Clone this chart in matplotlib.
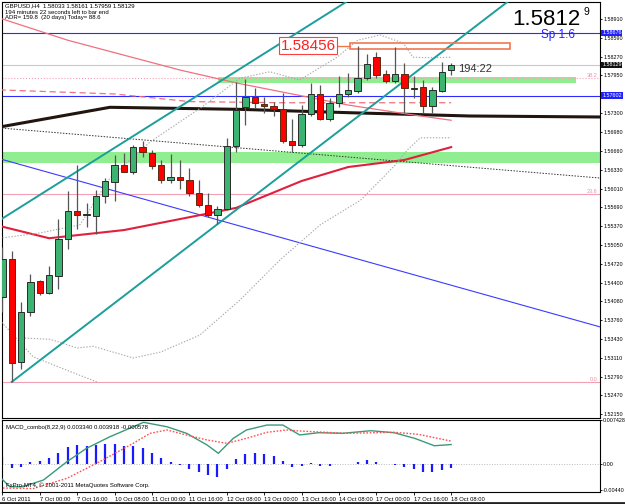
import matplotlib
matplotlib.use('Agg')
import matplotlib.pyplot as plt
import matplotlib.transforms as mtransforms
from matplotlib.patches import Rectangle

plt.rcParams['font.family'] = ['Liberation Sans', 'DejaVu Sans']

# GBPUSD H4 bars, 6 Oct 08:00 .. 18 Oct 08:00 (bar index = position)
opens = [1.5416, 1.5480, 1.5304, 1.5389, 1.5443, 1.5422, 1.5452, 1.5514, 1.5563, 1.5556,
         1.5554, 1.5588, 1.5613, 1.5641, 1.5630, 1.5672, 1.5662, 1.5641, 1.5616, 1.5620,
         1.5616, 1.5593, 1.5573, 1.5555, 1.5566, 1.5674, 1.5740, 1.5757, 1.5745, 1.5742,
         1.5737, 1.5683, 1.5676, 1.5729, 1.5763, 1.5720, 1.5748, 1.5763, 1.5768, 1.5791,
         1.5827, 1.5797, 1.5786, 1.5797, 1.5772, 1.5775, 1.5742, 1.5768, 1.58033]
highs = [1.5501, 1.5494, 1.5406, 1.5455, 1.5444, 1.5469, 1.5549, 1.5597, 1.5641, 1.5576,
         1.5599, 1.5619, 1.5659, 1.5662, 1.5676, 1.5683, 1.5667, 1.5650, 1.5661, 1.5650,
         1.5636, 1.5615, 1.5593, 1.5571, 1.5688, 1.5784, 1.5788, 1.5774, 1.5757, 1.5750,
         1.5764, 1.5721, 1.5744, 1.5782, 1.5778, 1.5756, 1.5793, 1.5799, 1.58456, 1.5831,
         1.5835, 1.5804, 1.5843, 1.5816, 1.5793, 1.5787, 1.5775, 1.5818, 1.58161]
lows = [1.5390, 1.5270, 1.5292, 1.5383, 1.5419, 1.5421, 1.5429, 1.5498, 1.5531, 1.5536,
        1.5524, 1.5576, 1.5579, 1.5629, 1.5626, 1.5655, 1.5634, 1.5611, 1.5610, 1.5600,
        1.5588, 1.5570, 1.5553, 1.5540, 1.5564, 1.5664, 1.5710, 1.5739, 1.5730, 1.5725,
        1.5679, 1.5664, 1.5673, 1.5725, 1.5718, 1.5717, 1.5741, 1.5758, 1.5764, 1.5787,
        1.5791, 1.5781, 1.5781, 1.5730, 1.5756, 1.5730, 1.5730, 1.5767, 1.57959]
closes = [1.5480, 1.5303, 1.5389, 1.5441, 1.5422, 1.5453, 1.5515, 1.5562, 1.5555, 1.5557,
          1.5589, 1.5614, 1.5641, 1.5630, 1.5672, 1.5664, 1.5640, 1.5616, 1.5620, 1.5616,
          1.5594, 1.5573, 1.5555, 1.5566, 1.5674, 1.5736, 1.5757, 1.5747, 1.5742, 1.5738,
          1.5683, 1.5676, 1.5729, 1.5763, 1.5720, 1.5747, 1.5763, 1.5769, 1.5791, 1.5814,
          1.5796, 1.5786, 1.5798, 1.5773, 1.5774, 1.5742, 1.5769, 1.5801, 1.58129]

# indicator lines, read as (bar, price) knots
red_ma_x = [-0.3, 5, 13, 20, 25, 32, 37, 43, 48]
red_ma_y = [1.5537, 1.5516, 1.5530, 1.5552, 1.5568, 1.5614, 1.5638, 1.5650, 1.5672]
pink_ma_x = [-0.3, 7, 19, 25, 37, 44, 48]
pink_ma_y = [1.5893, 1.5855, 1.5804, 1.5782, 1.5744, 1.5727, 1.5718]
pink_dash_x = [-0.3, 12, 20, 30, 40, 48]
pink_dash_y = [1.5770, 1.5763, 1.5750, 1.5748, 1.5748, 1.5748]
bb_up_x = [-0.3, 4, 8.3, 11.5, 15.8, 21.2, 25.4, 28.6, 31.8, 35.8, 38, 40.4, 42.9, 43.9, 45.7, 48]
bb_up_y = [1.5516, 1.5525, 1.5539, 1.5619, 1.5681, 1.5739, 1.5790, 1.5801, 1.5787, 1.5826,
           1.5855, 1.5864, 1.5850, 1.5826, 1.5825, 1.5826]
bb_lo1_x = [-0.3, 3.3, 6.9, 10.1]
bb_lo1_y = [1.5376, 1.5313, 1.5290, 1.5270]
bb_lo2_x = [2.4, 5.1, 8, 9.7, 14, 16.9, 21.1, 25.4, 29.7, 34, 38.3, 42, 43.3, 44.7, 48]
bb_lo2_y = [1.5345, 1.5343, 1.5328, 1.5331, 1.5311, 1.5321, 1.5350, 1.5410, 1.5479, 1.5539,
            1.5581, 1.5641, 1.5667, 1.5688, 1.5688]
black_x = [-0.3, 11.5, 25.4, 37.2, 50, 64]
black_y = [1.57064, 1.57402, 1.57367, 1.57309, 1.57253, 1.57236]

# trend lines: two anchors each (bar, price)
teal_low = [(1, 1.5270), (23, 1.5540)]
teal_up = [(0, 1.55498), (40, 1.59532)]
blue_line = [(0, 1.56508), (63.9, 1.53643)]
dotted_line = [(0, 1.57045), (63.9, 1.56191)]

# horizontal levels
blue_levels = [1.58676, 1.57602]
bid = 1.58129
fib_low, fib_high = 1.52703, 1.66316
fib_levels = [0.0, 23.6, 38.2]
zone_a = (23.1, 61.4, 1.57818, 1.57920)
zone_b = (1.56443, 1.56641)
box = (37.2, 54.3, 1.58395, 1.58497)
box_price = 1.58456

price_ticks = [1.58910, 1.58590, 1.58270, 1.57950, 1.57300, 1.56980, 1.56660, 1.56330,
               1.56010, 1.55690, 1.55370, 1.55050, 1.54720, 1.54400, 1.54080, 1.53760,
               1.53430, 1.53110, 1.52790, 1.52470, 1.52150]

# MACD(8,22,9)
hist = [0.0013, -0.00056, -0.00045, 0.00045, 0.00056, 0.00113, 0.00197, 0.00299, 0.00327, 0.0031,
        0.00327, 0.00338, 0.00338, 0.0031, 0.0031, 0.0027, 0.00197, 0.00113, 0.00045, -0.0001,
        -0.00084, -0.00135, -0.0018, -0.00208, -0.00084, 0.00084, 0.00169, 0.00186, 0.00169, 0.0014,
        0.0005, -0.0005, -0.00028, 0.00017, -0.00028, -0.00028, 0.0001, 0.0001, 0.00039, 0.00068,
        0.00039, 0.0, -0.00017, -0.00045, -0.00084, -0.0013, -0.00124, -0.00096, -0.000578]
macd_x = [-0.3, 0.8, 2.2, 4.4, 6.9, 9.0, 11.5, 14.0, 15.1, 17.6, 19.7, 21.9, 23.1, 24.7, 26.1,
          28.3, 30.0, 31.8, 33.8, 36.4, 39.4, 41.9, 44.1, 46.2, 48]
macd_y = [-0.0021, -0.00379, -0.00379, -0.00265, 0.00044, 0.0027, 0.00466, 0.00635, 0.0071,
          0.00635, 0.00524, 0.00326, 0.00186, 0.00439, 0.0058, 0.00664, 0.00664, 0.00496,
          0.00534, 0.00524, 0.00568, 0.00534, 0.00439, 0.00314, 0.00334]
sig_x = [-0.3, 3.3, 6.9, 10.4, 14.0, 15.8, 17.6, 19.7, 21.9, 24.0, 26.1, 28.3, 30.4, 31.8,
         36.8, 41.9, 44.5, 48]
sig_y = [-0.0040, -0.0041, -0.00237, 0.00044, 0.00355, 0.00524, 0.0058, 0.00495, 0.00411,
         0.00355, 0.00439, 0.00541, 0.0058, 0.00563, 0.00524, 0.00541, 0.00507, 0.00392]

date_ticks = [0, 4, 8, 12, 16, 20, 24, 28, 32, 36, 40, 44, 48]
date_labels = ['6 Oct 2011', '7 Oct 00:00', '7 Oct 16:00', '10 Oct 08:00', '11 Oct 00:00',
               '11 Oct 16:00', '12 Oct 08:00', '13 Oct 00:00', '13 Oct 16:00', '14 Oct 08:00',
               '17 Oct 00:00', '17 Oct 16:00', '18 Oct 08:00']

W, H = 625, 504
fig = plt.figure(figsize=(W / 100, H / 100), dpi=100)
fig.patch.set_facecolor('white')
ax = fig.add_axes([2 / W, 1 - 418 / H, 598 / W, 416 / H])
ax2 = fig.add_axes([2 / W, 1 - 492 / H, 598 / W, 72 / H])

xmin, xmax = -0.04, 63.92
ax.set_xlim(xmin, xmax)
ax.set_ylim(1.52082, 1.59205)


def ray(anchors, x0=xmin - 1, x1=xmax + 1):
    (xa, ya), (xb, yb) = anchors
    k = (yb - ya) / (xb - xa)
    return [x0, x1], [ya + k * (x0 - xa), ya + k * (x1 - xa)]


# zones and levels
ax.add_patch(Rectangle((zone_a[0], zone_a[2]), zone_a[1] - zone_a[0], zone_a[3] - zone_a[2],
                       facecolor='#90ee90', edgecolor='none', zorder=1))
ax.axhspan(zone_b[0], zone_b[1], color='#90ee90', zorder=1, lw=0)
for lv in fib_levels:
    p = fib_low + (fib_high - fib_low) * lv / 100
    ax.axhline(p, color='#f2a0b4', lw=0.8, ls=':' if lv == 38.2 else '-', zorder=2)
    ax.text(xmax - 0.3, p, '%.1f' % lv, color='#f08fa8', fontsize=4, ha='right', va='bottom', zorder=6)
for lv in blue_levels:
    ax.axhline(lv, color='#2b2bff', lw=0.8, zorder=2)
ax.axhline(bid, color='#c8c8c8', lw=0.8, zorder=2)

# lines
ax.plot(*ray(teal_low, x0=teal_low[0][0]), color='#1d9e9a', lw=1.4, zorder=4)
ax.plot(*ray(teal_up), color='#1d9e9a', lw=1.4, zorder=4)
ax.plot(*ray(blue_line), color='#3b3bff', lw=0.8, zorder=3)
ax.plot(*ray(dotted_line), color='#333333', lw=0.7, ls=(0, (1.5, 1.5)), zorder=3)
ax.plot(black_x, black_y, color='#20160f', lw=2.2, zorder=3)
ax.plot(pink_ma_x, pink_ma_y, color='#f07080', lw=0.9, zorder=3)
ax.plot(pink_dash_x, pink_dash_y, color='#f07080', lw=0.9, ls=(0, (5, 3)), zorder=3)
ax.plot(red_ma_x, red_ma_y, color='#e0203c', lw=1.5, zorder=3)
for bx, by in [(bb_up_x, bb_up_y), (bb_lo1_x, bb_lo1_y), (bb_lo2_x, bb_lo2_y)]:
    ax.plot(bx, by, color='#a8a8a8', lw=0.8, ls=(0, (1.2, 1.5)), zorder=3)

# box and price label
ax.add_patch(Rectangle((box[0], box[2]), box[1] - box[0], box[3] - box[2],
                       facecolor='none', edgecolor='#f07850', lw=1.2, zorder=5))
ax.plot([35.7, box[0]], [box_price, box_price], color='#f07850', lw=1, zorder=5)
ax.text(32.7, box_price, '%.5f' % box_price, color='#ff2020', fontsize=11, ha='center', va='center',
        zorder=6, bbox=dict(facecolor='white', edgecolor='#ff4040', pad=1.2, lw=0.8))

# candles
for i in range(len(opens)):
    o, h, l, c = opens[i], highs[i], lows[i], closes[i]
    up = c >= o
    ax.vlines(i, l, h, color='#555555', lw=0.9, zorder=6)
    ax.bar(i, max(abs(c - o), 0.00003), bottom=min(o, c), width=0.68,
           color='#3cb371' if up else '#ff0000', edgecolor='#2a2a2a' if up else '#5a2a10',
           lw=0.7, zorder=7)

ax.text(len(opens) - 0.3, 1.5805, '194:22', fontsize=8, color='#333333', ha='left', va='center', zorder=8)

ax.yaxis.tick_right()
ax.set_yticks(price_ticks)
ax.set_yticklabels(['%.5f' % t for t in price_ticks])
ax.tick_params(axis='y', labelsize=3.9, length=1.5, pad=0.8, width=0.6)
ax.set_xticks([])
ytrans = mtransforms.blended_transform_factory(ax.transAxes, ax.transData)
for lv in blue_levels:
    ax.text(1.0035, lv, '%.5f' % lv, transform=ytrans, fontsize=3.9, color='white', va='center',
            bbox=dict(facecolor='#2020ff', edgecolor='none', pad=0.6), clip_on=False)
ax.text(1.0035, bid, '%.5f' % bid, transform=ytrans, fontsize=3.9, color='white', va='center',
        bbox=dict(facecolor='#111111', edgecolor='none', pad=0.6), clip_on=False)
for s in ax.spines.values():
    s.set_linewidth(0.8)

# header texts
fig.text(5 / W, 1 - 7.5 / H, 'GBPUSD,H4  1.58033 1.58161 1.57959 1.58129', fontsize=4.3, va='baseline')
fig.text(5 / W, 1 - 13.5 / H, '194 minutes 22 seconds left to bar end', fontsize=4.3, va='baseline')
fig.text(5 / W, 1 - 19.5 / H, 'ADR= 159.8  (20 days) Today= 88.6', fontsize=4.3, va='baseline')
fig.text(512 / W, 1 - 25 / H, '1.5812', fontsize=16, va='baseline')
fig.text(583 / W, 1 - 15 / H, '9', fontsize=7.5, va='baseline')
fig.text(541 / W, 1 - 38 / H, 'Sp 1.6', fontsize=8.5, color='#2020ff', va='baseline')

# MACD panel
ax2.set_xlim(xmin, xmax)
ax2.set_ylim(-0.00468, 0.00749)
ax2.axhline(0, color='#bbbbbb', lw=0.7, ls=':', zorder=1)
ax2.vlines(range(len(hist)), 0, hist, color='#1a1aff', lw=1.6, zorder=2)
ax2.plot(macd_x, macd_y, color='#3a9a7a', lw=1.0, zorder=3)
ax2.plot(sig_x, sig_y, color='#ff5050', lw=1.0, ls=(0, (1.2, 1.2)), zorder=3)
ax2.yaxis.tick_right()
ax2.set_yticks([0.007428, 0.0, -0.0044])
ax2.set_yticklabels(['0.007428', '0.00', '-0.00440'])
ax2.tick_params(axis='y', labelsize=3.9, length=1.5, pad=0.8, width=0.6)
ax2.set_xticks(date_ticks)
ax2.set_xticklabels(date_labels)
ax2.tick_params(axis='x', labelsize=4.2, length=2, pad=1.5, width=0.6)
for lab in ax2.get_xticklabels():
    lab.set_ha('left')
for s in ax2.spines.values():
    s.set_linewidth(0.8)
ax2.text(0.006, 0.93, 'MACD_combo(8,22,9) 0.003340 0.003918 -0.000578', transform=ax2.transAxes,
         fontsize=4.3, va='top')
ax2.text(0.006, 0.06, 'FxPro-MT4, \u00a9 2001-2011 MetaQuotes Software Corp.', transform=ax2.transAxes,
         fontsize=4.3, va='bottom')

fig.add_artist(plt.Line2D([0, 1], [1.5 / H, 1.5 / H], color='#222222', lw=2))

fig.savefig('out.png', dpi=100)
